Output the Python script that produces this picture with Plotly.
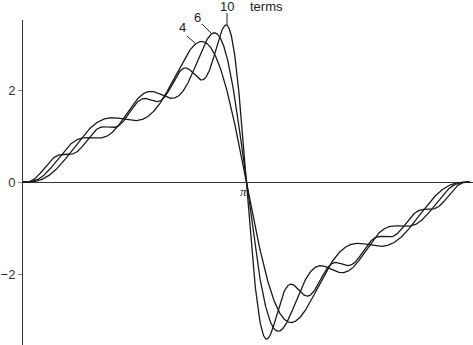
import numpy as np
import plotly.graph_objects as go

# Fourier partial sums of f(x) = x (periodic), plotted over [0, 2π]
terms = [4, 6, 10]
term_labels = ["4", "6", "10"]
ytick_vals = [-2, 0, 2]
ytick_text = ["\u22122", "0", "2"]

x = np.linspace(0, 2 * np.pi, 1200)

fig = go.Figure()
for N in terms:
    n = np.arange(1, N + 1)
    coef = 2 * ((-1.0) ** (n + 1)) / n
    y = (coef[:, None] * np.sin(n[:, None] * x[None, :])).sum(axis=0)
    fig.add_trace(go.Scatter(x=x, y=y, mode="lines",
                             line=dict(color="#1a1a1a", width=1.3),
                             hoverinfo="skip", showlegend=False))

W, H = 473, 345
l, r, t, b = 23, 0, 20, 0
xr = [0, 6.33]
yr = [-3.543, 3.522]

fig.update_layout(
    width=W, height=H,
    margin=dict(l=l, r=r, t=t, b=b),
    paper_bgcolor="white", plot_bgcolor="white",
    xaxis=dict(range=xr, showgrid=False, zeroline=False, showline=False,
               showticklabels=False, ticks=""),
    yaxis=dict(range=yr, showgrid=False, zeroline=True, zerolinecolor="#333333",
               zerolinewidth=1, showline=True, linecolor="#333333", linewidth=1,
               ticks="outside", ticklen=4, tickcolor="#888888",
               tickvals=ytick_vals, ticktext=ytick_text,
               tickfont=dict(family="Liberation Sans, Arial", size=13, color="#333333")),
)

def ppx(px):
    return (px - l) / (W - l - r)

def ppy(py):
    return 1 - (py - t) / (H - t - b)

label_pos = [(182, 28), (197, 17), (227, 6)]
leaders = [((187, 36), (195, 43)), ((202, 24), (211, 33)), ((227, 13), (227, 25))]
for txt, (px, py), ((x0, y0), (x1, y1)) in zip(term_labels, label_pos, leaders):
    fig.add_annotation(xref="paper", yref="paper", x=ppx(px), y=ppy(py), text=txt,
                       showarrow=False, xanchor="center", yanchor="middle",
                       font=dict(family="Liberation Sans, Arial", size=13, color="#222222"))
    fig.add_shape(type="line", xref="paper", yref="paper",
                  x0=ppx(x0), y0=ppy(y0), x1=ppx(x1), y1=ppy(y1),
                  line=dict(color="#222222", width=1))

fig.add_annotation(xref="paper", yref="paper", x=ppx(248), y=ppy(6), text="terms",
                   showarrow=False, xanchor="left", yanchor="middle",
                   font=dict(family="Liberation Sans, Arial", size=13, color="#222222"))

fig.add_annotation(xref="paper", yref="paper", x=ppx(243), y=ppy(191), text="<i>π</i>",
                   showarrow=False, xanchor="center", yanchor="middle",
                   font=dict(family="Liberation Serif, Times New Roman", size=13, color="#222222"))

fig.write_html("out.html")
